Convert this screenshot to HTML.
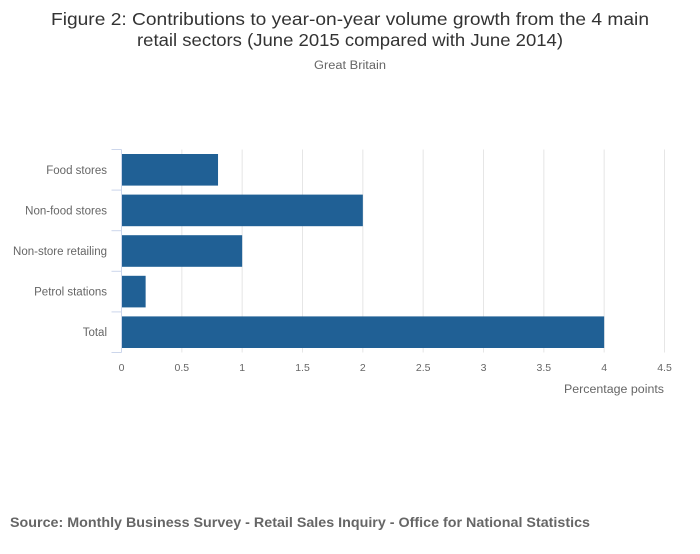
<!DOCTYPE html>
<html><head><meta charset="utf-8"><style>
body{margin:0;background:#fff;font-family:"Liberation Sans",sans-serif;}
svg text{font-family:"Liberation Sans",sans-serif;}
</style></head><body>
<svg width="700" height="549">
<text x="350" y="25" text-anchor="middle" font-size="17.5" fill="#333" textLength="598" lengthAdjust="spacingAndGlyphs">Figure 2: Contributions to year-on-year volume growth from the 4 main</text>
<text x="350" y="46" text-anchor="middle" font-size="17.5" fill="#333" textLength="426" lengthAdjust="spacingAndGlyphs">retail sectors (June 2015 compared with June 2014)</text>
<text x="350" y="69" text-anchor="middle" font-size="11.5" fill="#666" textLength="72" lengthAdjust="spacingAndGlyphs">Great Britain</text>
<g id="grid"></g><g id="bars"></g><g id="axes"></g>
<text x="664" y="393" text-anchor="end" font-size="11.5" fill="#666" textLength="100" lengthAdjust="spacingAndGlyphs">Percentage points</text>
<text x="10" y="527" font-size="13.5" font-weight="bold" fill="#666" textLength="580" lengthAdjust="spacingAndGlyphs">Source: Monthly Business Survey - Retail Sales Inquiry - Office for National Statistics</text>
</svg>
<script>
const categories=["Food stores","Non-food stores","Non-store retailing","Petrol stations","Total"];
const values=[0.8,2.0,1.0,0.2,4.0];
const xTicks=[0,0.5,1,1.5,2,2.5,3,3.5,4,4.5];
const X0=121.5,X1=664.5,YTOP=149.5,YBOT=352.5;
const xs=v=>X0+(v-0)/(4.5-0)*(X1-X0);
const band=(YBOT-YTOP)/categories.length;
const ns="http://www.w3.org/2000/svg";
function mk(t,a,p){const e=document.createElementNS(ns,t);for(const k in a)e.setAttribute(k,a[k]);document.getElementById(p).appendChild(e);return e;}
xTicks.forEach(t=>{
 if(t>0){const l=mk('line',{x1:xs(t),x2:xs(t),y1:YTOP,y2:YBOT,stroke:'#e6e6e6'},'grid');
 
 }
 const tx=mk('text',{x:xs(t),y:371,'text-anchor':'middle','font-size':10.5,fill:'#666'},'axes');tx.textContent=t;
 
 
});
const ax=mk('line',{x1:X0,x2:X0,y1:YTOP,y2:YBOT,stroke:'#ccd6eb'},'axes');


for(let i=0;i<=categories.length;i++){const y=YTOP+i*band;const tk=mk('line',{x1:X0-10,x2:X0,y1:y,y2:y,stroke:'#ccd6eb'},'axes');
 
 }
categories.forEach((c,i)=>{
 const y=YTOP+i*band;
 const r=mk('rect',{x:X0,y:y+4.5,width:xs(values[i])-X0,height:band-9,fill:'#206095'},'bars');
 
 
 const t=mk('text',{x:107,y:y+band/2+4,'text-anchor':'end','font-size':11.5,fill:'#666'},'axes');t.textContent=c;
 
 
});
</script>
</body></html>
